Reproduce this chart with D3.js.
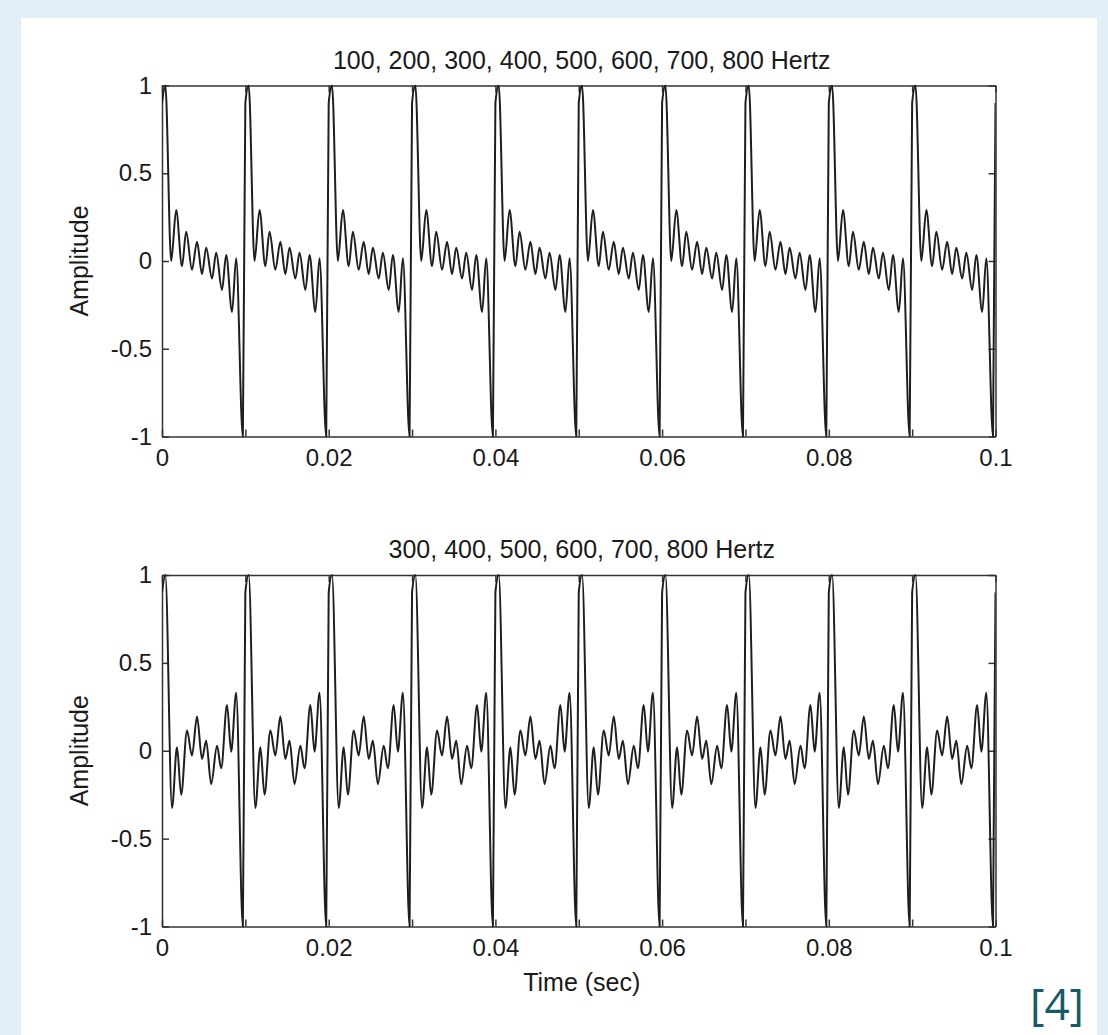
<!DOCTYPE html>
<html>
<head>
<meta charset="utf-8">
<script src="https://cdn.jsdelivr.net/npm/d3@7"></script>
<style>
  body { margin: 0; background: #e3eff7; }
  svg { display: block; }
  text { font-family: "Liberation Sans", Arial, sans-serif; fill: #1a1a1a; }
</style>
</head>
<body>
<svg id="chart" width="1108" height="1035"></svg>
<script>
// one period (0.01 s) of each waveform: time in period, amplitude
const topPeriodT = [0, 0.0004, 0.0011, 0.0017, 0.0024, 0.0029, 0.0036, 0.0042, 0.0048, 0.0053, 0.0060, 0.0065, 0.0072, 0.0077, 0.0084, 0.0089, 0.0097];
const topPeriodV = [0.9, 1.0, 0.0, 0.29, -0.03, 0.167, -0.05, 0.11, -0.075, 0.075, -0.10, 0.047, -0.165, 0.034, -0.29, 0.015, -1.0];

const bottomPeriodT = [0, 0.0004, 0.0012, 0.0018, 0.0023, 0.0030, 0.0036, 0.0042, 0.0048, 0.0053, 0.0059, 0.0066, 0.0071, 0.0078, 0.0083, 0.0089, 0.0097];
const bottomPeriodV = [0.9, 1.0, -0.326, 0.02, -0.25, 0.115, -0.027, 0.195, -0.047, 0.057, -0.19, 0.028, -0.10, 0.26, -0.005, 0.33, -1.0];

const periodStarts = [0, 0.01, 0.02, 0.03, 0.04, 0.05, 0.06, 0.07, 0.08, 0.09];
const endPoint = {t: 0.1, v: 0.9};

const xTicks = [0, 0.01, 0.02, 0.03, 0.04, 0.05, 0.06, 0.07, 0.08, 0.09, 0.1];
const xTickLabels = ["0", "", "0.02", "", "0.04", "", "0.06", "", "0.08", "", "0.1"];
const yTicks = [-1, -0.5, 0, 0.5, 1];
const yTickLabels = ["-1", "-0.5", "0", "0.5", "1"];

const titles = ["100, 200, 300, 400, 500, 600, 700, 800 Hertz", "300, 400, 500, 600, 700, 800 Hertz"];

function buildSeries(ts, vs) {
    let pts = [];
    periodStarts.forEach(p => {
        ts.forEach((t, i) => pts.push({t: p + t, v: vs[i]}));
    });
    pts.push(endPoint);
    return pts;
}

const svg = d3.select("#chart");
svg.append("rect").attr("x", 21).attr("y", 18).attr("width", 1076).attr("height", 1017).attr("fill", "#fff");

const left = 162, right = 995.5;
const panels = [
    {top: 85.5, bottom: 436.5, title: titles[0], data: buildSeries(topPeriodT, topPeriodV)},
    {top: 575, bottom: 926.5, title: titles[1], data: buildSeries(bottomPeriodT, bottomPeriodV)}
];

panels.forEach((p, idx) => {
    let x = d3.scaleLinear().domain([0, 0.1]).range([left, right]);
    let y = d3.scaleLinear().domain([-1, 1]).range([p.bottom, p.top]);
    let g = svg.append("g");

    let clipId = "clip" + idx;
    g.append("clipPath").attr("id", clipId)
        .append("rect").attr("x", left).attr("y", p.top - 1)
        .attr("width", right - left).attr("height", p.bottom - p.top + 2);

    let fmtX = d => xTickLabels[xTicks.indexOf(d)];
    let fmtY = d => yTickLabels[yTicks.indexOf(d)];

    let axB = g.append("g").attr("transform", `translate(0,${p.bottom})`)
        .call(d3.axisBottom(x).tickValues(xTicks).tickFormat(fmtX).tickSizeInner(-7).tickSizeOuter(0).tickPadding(12));
    let axT = g.append("g").attr("transform", `translate(0,${p.top})`)
        .call(d3.axisTop(x).tickValues(xTicks).tickFormat("").tickSizeInner(-7).tickSizeOuter(0));
    let axL = g.append("g").attr("transform", `translate(${left},0)`)
        .call(d3.axisLeft(y).tickValues(yTicks).tickFormat(fmtY).tickSizeInner(-7).tickSizeOuter(0).tickPadding(10));
    let axR = g.append("g").attr("transform", `translate(${right},0)`)
        .call(d3.axisRight(y).tickValues(yTicks).tickFormat("").tickSizeInner(-7).tickSizeOuter(0));

    [axB, axT, axL, axR].forEach(a => {
        a.select(".domain").attr("stroke", "#333").attr("stroke-width", 1.5);
        a.selectAll(".tick line").attr("stroke", "#333").attr("stroke-width", 1.5);
        a.selectAll("text").style("font-size", "24px").attr("fill", "#1a1a1a");
    });
    axB.selectAll("text").attr("dy", "0.71em");

    let line = d3.line()
        .x(d => x(d.t))
        .y(d => y(d.v))
        .curve(d3.curveMonotoneX);

    g.append("path")
        .datum(p.data)
        .attr("clip-path", `url(#${clipId})`)
        .attr("d", line)
        .attr("fill", "none")
        .attr("stroke", "#1e1e1e")
        .attr("stroke-width", 2)
        .attr("stroke-linejoin", "round");

    g.append("text")
        .attr("x", (left + right) / 2 + 3)
        .attr("y", p.top - 17)
        .attr("text-anchor", "middle")
        .style("font-size", "25px")
        .text(p.title);

    g.append("text")
        .attr("transform", `translate(88,${(p.top + p.bottom) / 2}) rotate(-90)`)
        .attr("text-anchor", "middle")
        .style("font-size", "25px")
        .text("Amplitude");
});

svg.append("text")
    .attr("x", (left + right) / 2 + 3)
    .attr("y", 991)
    .attr("text-anchor", "middle")
    .style("font-size", "25px")
    .text("Time (sec)");

svg.append("text")
    .attr("x", 1057)
    .attr("y", 1020)
    .attr("text-anchor", "middle")
    .style("font-family", "'Open Sans', 'Noto Sans', sans-serif")
    .style("font-size", "44px")
    .style("font-weight", 400)
    .style("fill", "#175a66")
    .text("[4]");
</script>
</body>
</html>
